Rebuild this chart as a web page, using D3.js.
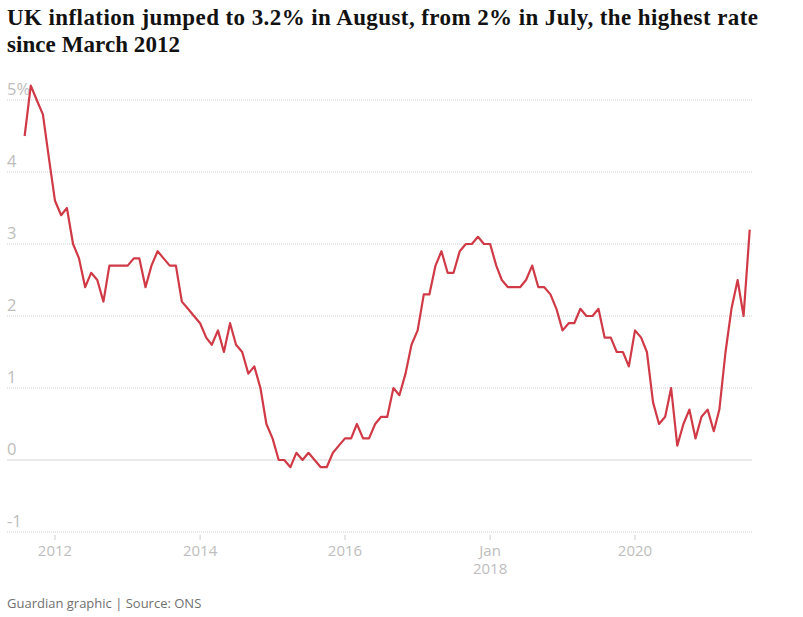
<!DOCTYPE html>
<html>
<head>
<meta charset="utf-8">
<script src="https://cdn.jsdelivr.net/npm/d3@7"></script>
<style>
	body { margin: 0; background: #fff; }
	svg { display: block; }
</style>
</head>
<body>
<div id="chart"></div>
<script>
// monthly CPI, Aug 2011 .. Aug 2021
const startMonth = '2011-08'
const cpi = [
	4.5, 5.2, 5.0, 4.8, 4.2,
	3.6, 3.4, 3.5, 3.0, 2.8, 2.4, 2.6, 2.5, 2.2, 2.7, 2.7, 2.7,
	2.7, 2.8, 2.8, 2.4, 2.7, 2.9, 2.8, 2.7, 2.7, 2.2, 2.1, 2.0,
	1.9, 1.7, 1.6, 1.8, 1.5, 1.9, 1.6, 1.5, 1.2, 1.3, 1.0, 0.5,
	0.3, 0.0, 0.0, -0.1, 0.1, 0.0, 0.1, 0.0, -0.1, -0.1, 0.1, 0.2,
	0.3, 0.3, 0.5, 0.3, 0.3, 0.5, 0.6, 0.6, 1.0, 0.9, 1.2, 1.6,
	1.8, 2.3, 2.3, 2.7, 2.9, 2.6, 2.6, 2.9, 3.0, 3.0, 3.1, 3.0,
	3.0, 2.7, 2.5, 2.4, 2.4, 2.4, 2.5, 2.7, 2.4, 2.4, 2.3, 2.1,
	1.8, 1.9, 1.9, 2.1, 2.0, 2.0, 2.1, 1.7, 1.7, 1.5, 1.5, 1.3,
	1.8, 1.7, 1.5, 0.8, 0.5, 0.6, 1.0, 0.2, 0.5, 0.7, 0.3, 0.6,
	0.7, 0.4, 0.7, 1.5, 2.1, 2.5, 2.0, 3.2,
]
const yTicks = [5, 4, 3, 2, 1, 0, -1]
const xTicks = ['2012-01', '2014-01', '2016-01', '2018-01', '2020-01']
const xTickLabels = [['2012'], ['2014'], ['2016'], ['Jan', '2018'], ['2020']]
const title = [
	'UK inflation jumped to 3.2% in August, from 2% in July, the highest rate',
	'since March 2012',
]
const source = 'Guardian graphic | Source: ONS'

const width = 803
const height = 617
const parse = d3.timeParse('%Y-%m')
const t0 = parse(startMonth)
const data = cpi.map((v, i) => ({ date: d3.timeMonth.offset(t0, i), value: v }))

const svg = d3
	.select('#chart')
	.append('svg')
	.attr('width', width)
	.attr('height', height)

// title
svg.append('text')
	.attr('font-family', 'Liberation Serif, serif')
	.attr('font-weight', 'bold')
	.attr('font-size', 23)
	.attr('fill', '#121212')
	.selectAll('tspan')
	.data(title)
	.join('tspan')
	.attr('x', 7)
	.attr('y', (d, i) => 25 + i * 27)
	.attr('textLength', (d, i) => (i ? 173 : 751))
	.attr('lengthAdjust', 'spacing')
	.text((d) => d)

const x = d3
	.scaleTime()
	.domain([parse('2012-01'), parse('2020-01')])
	.range([55, 635])
const y = d3.scaleLinear().domain([0, 5]).range([460, 100])

// gridlines
const grid = svg.append('g')
grid.selectAll('line')
	.data(yTicks)
	.join('line')
	.attr('x1', 7)
	.attr('x2', 752)
	.attr('y1', (d) => y(d))
	.attr('y2', (d) => y(d))
	.attr('stroke', (d) => (d === 0 ? '#d6d6d6' : '#cfcfcf'))
	.attr('stroke-width', 1)
	.attr('stroke-dasharray', (d) => (d === 0 ? null : '1,1'))

grid.selectAll('text')
	.data(yTicks)
	.join('text')
	.attr('x', 7)
	.attr('y', (d) => y(d) - 5)
	.attr('font-family', 'Open Sans, sans-serif')
	.attr('font-size', 16.5)
	.attr('fill', '#bdbdbd')
	.text((d, i) => (i === 0 ? d + '%' : d))

// x axis
const xa = svg.append('g')
const ticks = xa.selectAll('g')
	.data(xTicks)
	.join('g')
	.attr('transform', (d) => `translate(${x(parse(d))},0)`)
ticks.append('line')
	.attr('y1', 535)
	.attr('y2', 540)
	.attr('stroke', '#cfcfcf')
ticks.append('text')
	.attr('text-anchor', 'middle')
	.attr('font-family', 'Open Sans, sans-serif')
	.attr('font-size', 15)
	.attr('fill', '#bdbdbd')
	.selectAll('tspan')
	.data((d, i) => xTickLabels[i])
	.join('tspan')
	.attr('x', 0)
	.attr('y', (d, i) => 556 + i * 18)
	.text((d) => d)

// line
const line = d3
	.line()
	.x((d) => x(d.date))
	.y((d) => y(d.value))
svg.append('path')
	.datum(data)
	.attr('fill', 'none')
	.attr('stroke', '#d03a47')
	.attr('stroke-width', 2.2)
	.attr('stroke-linejoin', 'round')
	.attr('d', line)

svg.append('text')
	.attr('x', 7)
	.attr('y', 608)
	.attr('font-family', 'Open Sans, sans-serif')
	.attr('font-size', 13)
	.attr('fill', '#707070')
	.text(source)
</script>
</body>
</html>
